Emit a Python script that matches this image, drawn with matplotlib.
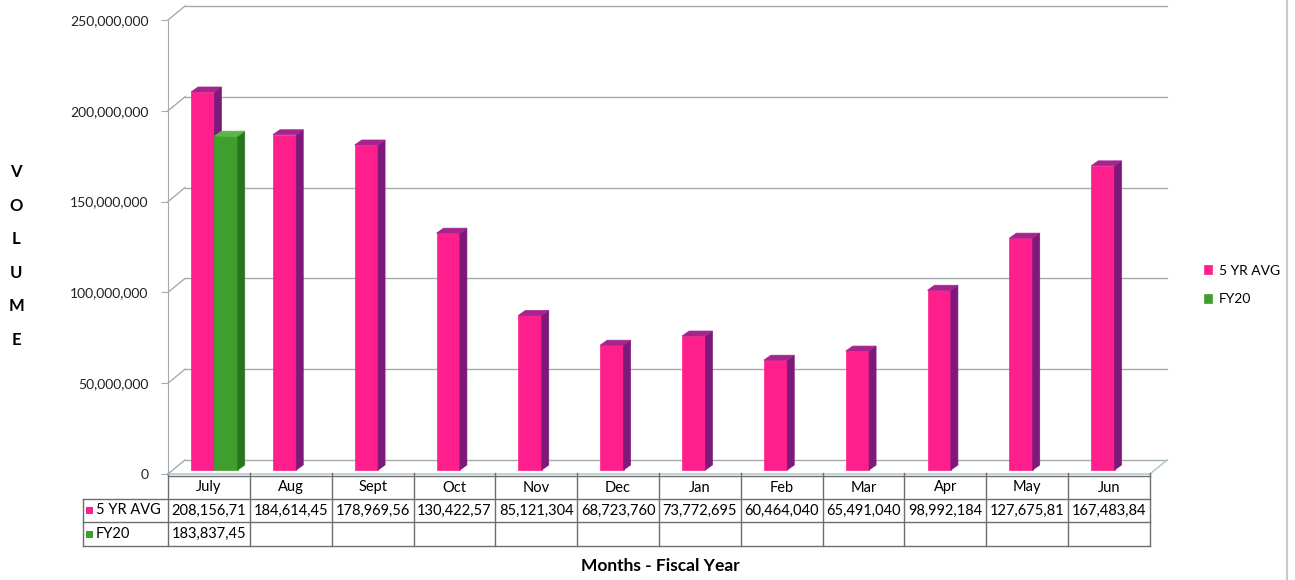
import matplotlib.pyplot as plt
from matplotlib.patches import Polygon, Rectangle
from matplotlib.lines import Line2D
from matplotlib.ticker import FuncFormatter
import matplotlib.transforms as mtransforms

# data
months = ["July", "Aug", "Sept", "Oct", "Nov", "Dec", "Jan", "Feb", "Mar", "Apr", "May", "Jun"]
avg_5yr = [208156710, 184614450, 178969560, 130422570, 85121304, 68723760,
           73772695, 60464040, 65491040, 98992184, 127675810, 167483840]
fy20 = [183837450]  # only July reported so far
series_names = ["5 YR AVG", "FY20"]
yticks = [0, 50000000, 100000000, 150000000, 200000000, 250000000]

PINK, PINK_SIDE, PINK_TOP = "#FF1F8C", "#7E197C", "#A5248E"
GREEN, GREEN_SIDE, GREEN_TOP = "#3E9E2E", "#2A7620", "#5BB548"
GRID = "#A4ABB0"
TABLE = "#6E6E6E"

plt.rcParams['font.family'] = ['Lato', 'DejaVu Sans']

W, H = 1295, 580
fig = plt.figure(figsize=(W / 100, H / 100), dpi=100)
# front plane of the 3d plot: x 168..1150 px, y 474 (0) .. 20 (250M)
ax = fig.add_axes([168 / W, 106 / H, 982 / W, 454 / H])
ax.set_xlim(-0.5, 11.5)
ax.set_ylim(0, 250000000)

# depth offsets (in data units)
px_x = 982 / 12.0          # pixels per category
px_y = 454 / 250000000.0   # pixels per unit value
wall_dx, wall_dy = 17 / px_x, 14 / px_y
bar_dx, bar_dy = 7 / px_x, 5 / px_y
base = 2200000
bw = 0.285

# back wall gridlines + left wall diagonals
for v in yticks:
    ax.plot([-0.5 + wall_dx, 11.5 + wall_dx], [v + wall_dy] * 2, color=GRID, lw=1, clip_on=False, zorder=1)
    ax.plot([-0.5, -0.5 + wall_dx], [v, v + wall_dy], color=GRID, lw=1, clip_on=False, zorder=1)
# floor edges
ax.plot([-0.5, 11.5], [0, 0], color="#B9CBD3", lw=1.2, clip_on=False, zorder=1)
ax.plot([11.5, 11.5 + wall_dx], [0, wall_dy], color="#B9CBD3", lw=1.2, clip_on=False, zorder=1)


def draw_3d(xs, vals, color, side, top):
    bars = ax.bar(xs, vals, width=bw, bottom=base, align='edge',
                  color=color, edgecolor=color, lw=0.5, zorder=3)
    for x, v in zip(xs, vals):
        y1 = base + v
        ax.add_patch(Polygon([(x + bw, base), (x + bw + bar_dx, base + bar_dy),
                              (x + bw + bar_dx, y1 + bar_dy), (x + bw, y1)],
                             closed=True, fc=side, ec=side, lw=0.5, zorder=3, clip_on=False))
        ax.add_patch(Polygon([(x, y1), (x + bar_dx, y1 + bar_dy),
                              (x + bw + bar_dx, y1 + bar_dy), (x + bw, y1)],
                             closed=True, fc=top, ec=top, lw=0.5, zorder=3, clip_on=False))
    return bars


pink_x = [i - 0.218 for i in range(len(avg_5yr))]
green_x = [i - 0.218 + bw for i in range(len(fy20))]
b1 = draw_3d(pink_x, avg_5yr, PINK, PINK_SIDE, PINK_TOP)
b2 = draw_3d(green_x, fy20, GREEN, GREEN_SIDE, GREEN_TOP)

# axes styling
for s in ["top", "right", "bottom"]:
    ax.spines[s].set_visible(False)
ax.spines["left"].set_color(GRID)
ax.set_xticks([])
ax.set_yticks(yticks)
ax.yaxis.set_major_formatter(FuncFormatter(lambda v, _: f"{int(v):,}"))
ax.tick_params(axis='y', length=5, color=GRID, labelsize=10, pad=9, labelcolor="#222222")

# data table under the plot
tr = mtransforms.blended_transform_factory(ax.transData, fig.transFigure)
fy = lambda p: 1 - p / H
rows = [476, 499, 522, 546]
label_left = -0.5 - 85 / px_x
ncol = len(months)


def tline(xs, ys):
    ax.add_artist(Line2D(xs, ys, transform=tr, color=TABLE, lw=1, clip_on=False))


tline([-0.5, ncol - 0.5], [fy(rows[0])] * 2)
for r in rows[1:]:
    tline([label_left, ncol - 0.5], [fy(r)] * 2)
tline([label_left] * 2, [fy(rows[1]), fy(rows[3])])
for k in range(ncol + 1):
    tline([k - 0.5] * 2, [fy(473), fy(rows[3])])

fmt = lambda v: f"{v:,}"[:10]
for i, m in enumerate(months):
    ax.text(i, fy((rows[0] + rows[1]) / 2), m, transform=tr, ha='center', va='center', fontsize=10.5)
    ax.text(i, fy((rows[1] + rows[2]) / 2), fmt(avg_5yr[i]), transform=tr, ha='center', va='center', fontsize=10.5)
for i, v in enumerate(fy20):
    ax.text(i, fy((rows[2] + rows[3]) / 2), fmt(v), transform=tr, ha='center', va='center', fontsize=10.5)

for name, col, r in [(series_names[0], PINK, 1), (series_names[1], GREEN, 2)]:
    yc = (rows[r] + rows[r + 1]) / 2
    fig.add_artist(Rectangle((86 / W, fy(yc + 3.5)), 7 / W, 7 / H, transform=fig.transFigure,
                             fc=col, ec='none'))
    fig.text(96 / W, fy(yc), name, ha='left', va='center', fontsize=10.5)

# legend
fig.legend(handles=[b1, b2], labels=series_names, loc='center left',
           bbox_to_anchor=(1197 / W, fy(285)), frameon=False, fontsize=10,
           handlelength=0.6, handleheight=0.6, handletextpad=0.45, labelspacing=1.2, borderpad=0)

# axis titles
fig.text(16 / W, fy(256), "\n".join("VOLUME"), ha='center', va='center',
         fontweight='bold', fontsize=12, linespacing=2.35)
fig.text(660 / W, fy(566), "Months - Fiscal Year", ha='center', va='center',
         fontweight='bold', fontsize=12.5)

# chart area border on the right
fig.add_artist(Line2D([1287 / W] * 2, [0, 1], color="#C8C8C8", lw=1.5))

fig.savefig("out.png", dpi=100)
